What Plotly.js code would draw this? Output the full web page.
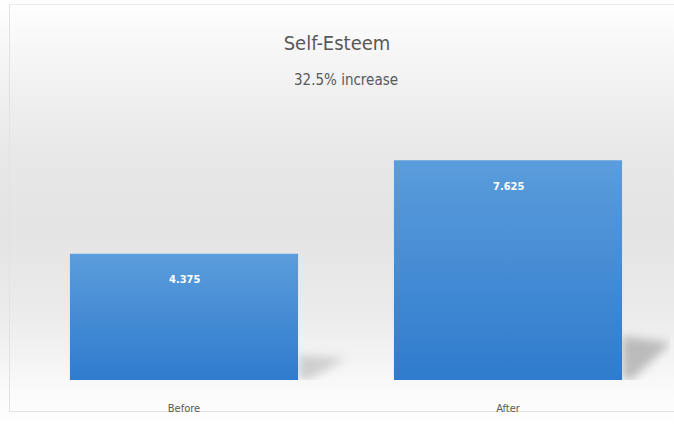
<!DOCTYPE html>
<html>
<head>
<meta charset="utf-8">
<script src="https://cdn.plot.ly/plotly-3.0.1.min.js"></script>
<style>
  html, body { margin:0; padding:0; }
  body { width:674px; height:425px; overflow:hidden;
    background: linear-gradient(to bottom, #ffffff 0%, #f6f6f6 12%, #e8e8e8 35%, #e4e4e4 55%, #ececec 75%, #fafafa 92%, #ffffff 100%); }
  #frame { position:absolute; left:9px; top:4px; width:670px; height:408px; border-left:1px solid #e2e2e2; border-top:1px solid #ececec; border-bottom:1px solid #e2e2e2; box-sizing:border-box; }
  #chart { position:absolute; left:0; top:0; width:674px; height:425px; }
</style>
</head>
<body>
<div id="frame"></div>
<div id="chart"></div>
<script>
const categories = ["Before", "After"];
const values = [4.375, 7.625];
const valueLabels = ["4.375", "7.625"];
const titleText = "Self-Esteem";
const subtitleText = "32.5% increase";

const FONT = 'DejaVu Sans Condensed, Liberation Sans Narrow, sans-serif';
const barWidth = 0.704;
const shapes = [];
values.forEach((v, i) => {
  const xe = i + barWidth / 2;
  shapes.push({
    type: 'path', xref: 'x', yref: 'y', layer: 'below',
    path: `M ${xe} 0 L ${xe} ${v * 0.2} L ${xe + 0.15} ${v * 0.17} L ${xe + 0.03} 0 Z`,
    fillcolor: 'rgba(120,120,120,' + (i === 0 ? 0.3 : 0.45) + ')', line: {width: 0}
  });
});

const annotations = values.map((v, i) => ({
  x: categories[i], y: v, xref: 'x', yref: 'y',
  text: '<b>' + valueLabels[i] + '</b>', showarrow: false,
  yshift: -26, font: {family: FONT, size: 11, color: '#ffffff'}
}));
annotations.push({
  xref: 'paper', yref: 'paper', x: 0.5, y: 1, yanchor: 'middle', xanchor: 'center',
  yshift: 30, text: subtitleText, showarrow: false,
  font: {family: FONT, size: 15, color: '#595959'}
});

const data = [{
  type: 'bar', x: categories, y: values,
  marker: {color: '#4389d6', line: {width: 0}},
  hoverinfo: 'none'
}];

const layout = {
  width: 674, height: 425,
  margin: {l: 22, r: 4, t: 110, b: 45},
  paper_bgcolor: 'rgba(0,0,0,0)', plot_bgcolor: 'rgba(0,0,0,0)',
  bargap: 1 - barWidth,
  showlegend: false,
  title: {text: titleText, x: 0.5, xanchor: 'center', y: 0.9, yanchor: 'middle', yref: 'container',
    font: {family: FONT, size: 20, color: '#595959'}},
  xaxis: {showgrid: false, zeroline: false, showline: false, ticks: '',
    ticklabelstandoff: 20,
    tickfont: {family: FONT, size: 11, color: '#595959'},
    range: [-0.5, 1.5]},
  yaxis: {visible: false, range: [0, 9.365]},
  shapes: shapes,
  annotations: annotations
};

Plotly.newPlot('chart', data, layout, {staticPlot: true}).then(gd => {
  const svg = gd.querySelector('svg.main-svg');
  const ns = 'http://www.w3.org/2000/svg';
  let defs = svg.querySelector('defs');
  if (!defs) { defs = document.createElementNS(ns, 'defs'); svg.insertBefore(defs, svg.firstChild); }
  const grad = document.createElementNS(ns, 'linearGradient');
  grad.setAttribute('id', 'barGrad');
  grad.setAttribute('x1', '0'); grad.setAttribute('y1', '0');
  grad.setAttribute('x2', '0'); grad.setAttribute('y2', '1');
  [['0%', '#5b9ddc'], ['100%', '#2f7bcd']].forEach(([o, c]) => {
    const s = document.createElementNS(ns, 'stop');
    s.setAttribute('offset', o); s.setAttribute('stop-color', c);
    grad.appendChild(s);
  });
  defs.appendChild(grad);
  const filt = document.createElementNS(ns, 'filter');
  filt.setAttribute('id', 'shBlur');
  filt.setAttribute('x', '-50%'); filt.setAttribute('y', '-50%');
  filt.setAttribute('width', '200%'); filt.setAttribute('height', '200%');
  const blur = document.createElementNS(ns, 'feGaussianBlur');
  blur.setAttribute('stdDeviation', '5');
  filt.appendChild(blur);
  defs.appendChild(filt);
  gd.querySelectorAll('.bars .point path').forEach(p => {
    p.style.fill = 'url(#barGrad)';
  });
  gd.querySelectorAll('.shapelayer path').forEach(p => {
    p.setAttribute('filter', 'url(#shBlur)');
  });
});
</script>
</body>
</html>
